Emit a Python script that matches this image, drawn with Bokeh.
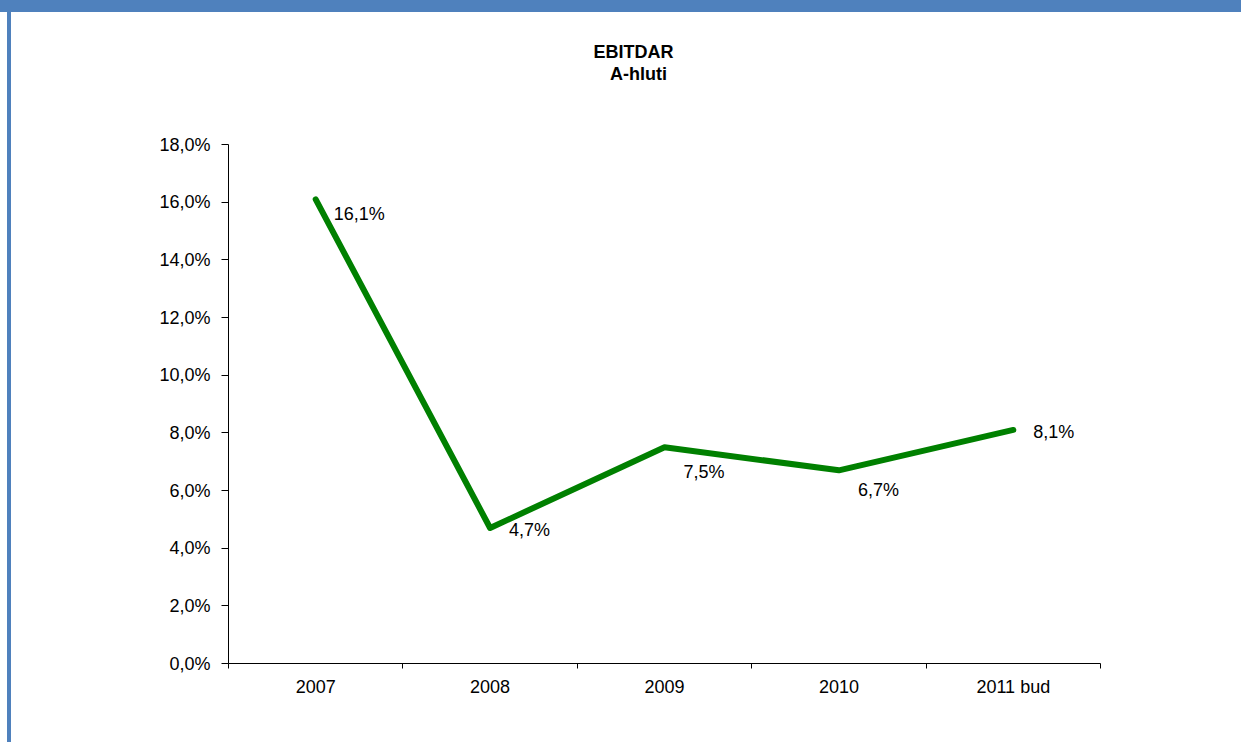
from bokeh.plotting import figure
from bokeh.models import ColumnDataSource, FixedTicker, Range1d, Spacer
from bokeh.layouts import column, row
from bokeh.core.properties import value
from bokeh.embed import file_html
from bokeh.resources import INLINE

# ---- data ----
categories = ["2007", "2008", "2009", "2010", "2011 bud"]
ebitdar_pct = [16.1, 4.7, 7.5, 6.7, 8.1]
y_ticks = [0, 2, 4, 6, 8, 10, 12, 14, 16, 18]
title_lines = ["EBITDAR", "A-hluti"]

# ---- styling ----
label_dx = [18, 19, 19, 19, 20]      # data-label pixel offsets
label_dy = [15, 2, 25, 20, 2]
FONT = "Liberation Sans"
GREEN = "#008000"
BLUE = "#4F81BD"

W, H = 1230, 730                     # figure size (inside the blue frame)
LEFT, RIGHT, BOTTOM = 217, 141, 79   # borders
PLOT_PX = 519                        # pixels from 0 % to 18 %
Y_MAX_AXIS = 18

def pct(v):
    return f"{v:.1f}%".replace(".", ",")

n = len(categories)
frame_w = W - LEFT - RIGHT
frame_h = H - BOTTOM
y_top = Y_MAX_AXIS * frame_h / PLOT_PX   # frame extends above axis to hold title

xs = [i + 0.5 for i in range(n)]
src = ColumnDataSource(dict(
    x=xs, y=ebitdar_pct, lbl=[pct(v) for v in ebitdar_pct],
    dx=label_dx, dy=label_dy,
))

p = figure(width=W, height=H, output_backend="svg", toolbar_location=None,
           x_range=Range1d(0, n), y_range=Range1d(0, y_top),
           min_border_left=LEFT, min_border_right=RIGHT,
           min_border_top=0, min_border_bottom=BOTTOM)
p.outline_line_color = None
p.grid.visible = False
p.background_fill_color = "white"
p.border_fill_color = "white"

p.line("x", "y", source=src, line_color=GREEN, line_width=6,
       line_cap="round", line_join="round")
p.text("x", "y", text="lbl", source=src, x_offset="dx", y_offset="dy",
       text_font=value(FONT), text_font_size="18px", text_color="#000000",
       text_align="left", text_baseline="middle")

# title (pixel placement converted to data units)
def px_to_data(fx, fy):
    return fx / frame_w * n, (frame_h - fy) / frame_h * y_top

tx1, ty1 = px_to_data(405, 39)
tx2, ty2 = px_to_data(410, 61)
p.text(x=[tx1, tx2], y=[ty1, ty2], text=title_lines,
       text_font=value(FONT), text_font_size="18px", text_font_style="bold",
       text_color="#000000", text_align="center", text_baseline="middle")

# x axis: labels at centres, ticks at category boundaries
xa = p.xaxis[0]
xa.ticker = FixedTicker(ticks=xs, minor_ticks=list(range(n + 1)))
xa.major_label_overrides = {x: c for x, c in zip(xs, categories)}
xa.major_tick_line_color = None
xa.major_tick_out = 6
xa.minor_tick_out = 5
xa.minor_tick_in = 0
xa.minor_tick_line_color = "black"
xa.axis_line_color = "black"
xa.major_label_text_font = FONT
xa.major_label_text_font_size = "18px"
xa.major_label_text_color = "black"
xa.major_label_standoff = 7

ya = p.yaxis[0]
ya.ticker = FixedTicker(ticks=y_ticks)
ya.bounds = (0, Y_MAX_AXIS)
ya.major_label_overrides = {t: pct(t) for t in y_ticks}
ya.major_tick_out = 7
ya.major_tick_in = 0
ya.minor_tick_line_color = None
ya.axis_line_color = "black"
ya.major_tick_line_color = "black"
ya.major_label_text_font = FONT
ya.major_label_text_font_size = "18px"
ya.major_label_text_color = "black"
ya.major_label_standoff = 11

# blue frame: band on top, bar on the left
top_band = Spacer(width=7 + 4 + W, height=12, styles={"background-color": BLUE})
left_gap = Spacer(width=7, height=H, styles={"background-color": "white"})
left_bar = Spacer(width=4, height=H, styles={"background-color": BLUE})
page = column(top_band, row(left_gap, left_bar, p, spacing=0), spacing=0)

open("out.html", "w").write(file_html(page, INLINE))
